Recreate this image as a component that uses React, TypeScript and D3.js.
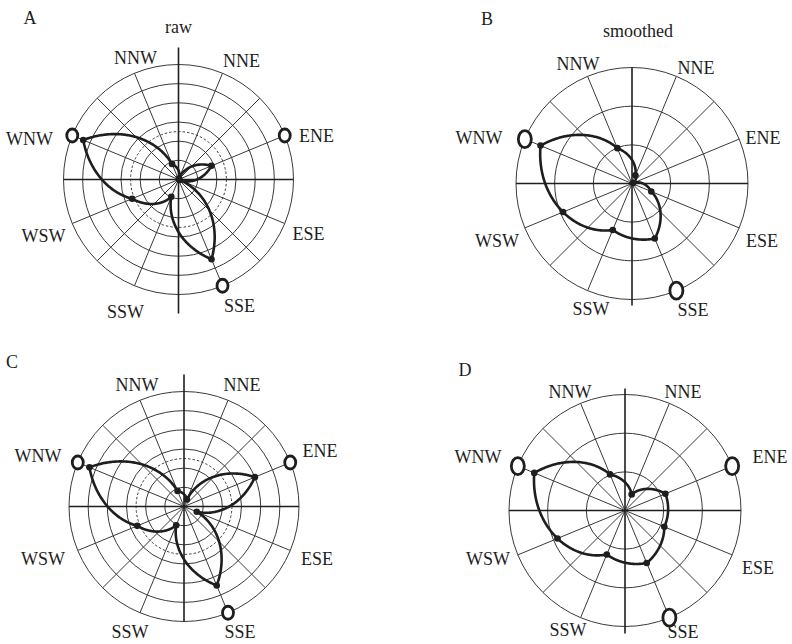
import { useEffect, useRef } from 'react';
import * as d3 from 'd3';

// 8 sectors, clockwise from north
const directions = ['NNE', 'ENE', 'ESE', 'SSE', 'SSW', 'WSW', 'WNW', 'NNW'];
const dirAngles = [22.5, 67.5, 112.5, 157.5, 202.5, 247.5, 292.5, 337.5];

// values (outer ring = 30)
const rawA = [0.3, 9.3, 0.3, 22.5, 4.9, 13.1, 26.9, 4.4];
const smoothB = [2.3, 0.3, 5.4, 15.4, 13.0, 19.3, 25.6, 9.9];
const rawC = [2.0, 20.0, 3.6, 22.3, 5.3, 13.2, 26.7, 4.4];
const smoothD = [4.5, 11.3, 11.0, 14.7, 12.3, 18.9, 25.4, 10.1];

const markersA = ['WNW', 'ENE', 'SSE'];
const markersB = ['WNW', 'SSE'];
const markersC = ['WNW', 'ENE', 'SSE'];
const markersD = ['WNW', 'ENE', 'SSE'];

const rawRings = [5, 10, 15, 20, 25, 30];
const smoothRings = [10, 20, 30];
const uniformLevel = 12.5;
const rMax = 30;

type Off = Record<string, [number, number]>;

// label placement relative to each centre
const labelsA: Off = { NNW: [-43, -122], NNE: [63, -119], ENE: [138, -44], ESE: [130, 54], SSE: [61, 126], SSW: [-53, 132], WSW: [-135, 56], WNW: [-149, -41] };
const labelsB: Off = { NNW: [-54, -120], NNE: [64, -116], ENE: [131, -46], ESE: [130, 57], SSE: [61, 126], SSW: [-41, 125], WSW: [-135, 57], WNW: [-153, -46] };
const labelsC: Off = { NNW: [-47, -122], NNE: [58, -122], ENE: [136, -56], ESE: [133, 52], SSE: [56, 125], SSW: [-54, 125], WSW: [-141, 52], WNW: [-146, -51] };
const labelsD: Off = { NNW: [-55, -119], NNE: [58, -119], ENE: [145, -54], ESE: [133, 57], SSE: [58, 121], SSW: [-57, 119], WSW: [-137, 48], WNW: [-147, -54] };

const panels = [
  { letter: 'A', lx: 30, ly: 18, title: 'raw', tx: 0, values: rawA, markers: markersA, labels: labelsA, rings: rawRings, dashed: true, cx: 178.5, cy: 179.5, R: 115, up: 132, down: 134, mrx: 5.5, mry: 6.5 },
  { letter: 'B', lx: 487, ly: 19, title: 'smoothed', tx: 6, values: smoothB, markers: markersB, labels: labelsB, rings: smoothRings, dashed: false, cx: 632, cy: 183.5, R: 116, up: 116, down: 122, mrx: 6.5, mry: 8.5 },
  { letter: 'C', lx: 12, ly: 362, title: '', tx: 0, values: rawC, markers: markersC, labels: labelsC, rings: rawRings, dashed: true, cx: 184, cy: 506.5, R: 115, up: 132, down: 115, mrx: 5.5, mry: 6.5 },
  { letter: 'D', lx: 465, ly: 370, title: '', tx: 0, values: smoothD, markers: markersD, labels: labelsD, rings: smoothRings, dashed: false, cx: 625, cy: 510.5, R: 116, up: 122, down: 123, mrx: 6.5, mry: 8.5 },
];

const ink = '#1e1e1e';
const grid = '#3a3a3a';
const font = '"Liberation Serif", "DejaVu Serif", serif';

export default function App() {
  const ref = useRef<SVGSVGElement | null>(null);

  useEffect(() => {
    if (!ref.current) return;
    const svg = d3.select(ref.current);
    svg.selectAll('*').remove();

    svg.append('rect').attr('width', 792).attr('height', 644).attr('fill', '#fff');

    const rad = (deg: number) => (deg * Math.PI) / 180;

    panels.forEach(p => {
      const r = d3.scaleLinear().domain([0, rMax]).range([0, p.R]);
      const g = svg.append('g').attr('transform', `translate(${p.cx},${p.cy})`);

      // rings
      g.selectAll('circle.ring')
        .data(p.rings)
        .join('circle')
        .attr('class', 'ring')
        .attr('r', d => r(d))
        .attr('fill', 'none')
        .attr('stroke', grid)
        .attr('stroke-width', 1);

      if (p.dashed) {
        g.append('circle')
          .attr('r', r(uniformLevel))
          .attr('fill', 'none')
          .attr('stroke', grid)
          .attr('stroke-width', 1)
          .attr('stroke-dasharray', '2.5,2');
      }

      // spokes every 22.5 degrees (cardinal ones are the axes)
      const spokes = d3.range(16).filter(i => i % 4 !== 0).map(i => i * 22.5);
      g.selectAll('line.spoke')
        .data(spokes)
        .join('line')
        .attr('class', 'spoke')
        .attr('x1', 0)
        .attr('y1', 0)
        .attr('x2', d => d3.pointRadial(rad(d), p.R)[0])
        .attr('y2', d => d3.pointRadial(rad(d), p.R)[1])
        .attr('stroke', grid)
        .attr('stroke-width', 1);

      // axes
      g.append('line')
        .attr('x1', -p.R).attr('x2', p.R).attr('y1', 0).attr('y2', 0)
        .attr('stroke', ink).attr('stroke-width', 1.6);
      g.append('line')
        .attr('x1', 0).attr('x2', 0).attr('y1', -p.up).attr('y2', p.down)
        .attr('stroke', ink).attr('stroke-width', 1.6);

      // radius varies linearly with angle between neighbouring sectors
      const last = p.values.length - 1;
      const byAngle = d3.scaleLinear()
        .domain([dirAngles[last] - 360, ...dirAngles])
        .range([p.values[last], ...p.values]);
      const thetas = d3.range(dirAngles[last] - 360, dirAngles[last], 0.5);
      const radial = d3.lineRadial<number>()
        .angle(t => rad(t))
        .radius(t => r(byAngle(t)))
        .curve(d3.curveLinearClosed);
      g.append('path')
        .attr('d', radial(thetas))
        .attr('fill', 'none')
        .attr('stroke', ink)
        .attr('stroke-width', 2.6)
        .attr('stroke-linejoin', 'round');

      const pts = p.values.map((v, i) => d3.pointRadial(rad(dirAngles[i]), r(v)));
      g.selectAll('circle.dot')
        .data(pts)
        .join('circle')
        .attr('class', 'dot')
        .attr('cx', d => d[0])
        .attr('cy', d => d[1])
        .attr('r', 3.3)
        .attr('fill', ink);

      // open markers on the rim
      g.selectAll('ellipse.mark')
        .data(p.markers)
        .join('ellipse')
        .attr('class', 'mark')
        .attr('cx', d => d3.pointRadial(rad(dirAngles[directions.indexOf(d)]), p.R)[0])
        .attr('cy', d => d3.pointRadial(rad(dirAngles[directions.indexOf(d)]), p.R)[1])
        .attr('rx', p.mrx)
        .attr('ry', p.mry)
        .attr('fill', '#fff')
        .attr('stroke', ink)
        .attr('stroke-width', 2.8);

      // direction labels
      g.selectAll('text.dir')
        .data(directions)
        .join('text')
        .attr('class', 'dir')
        .attr('x', d => p.labels[d][0])
        .attr('y', d => p.labels[d][1])
        .attr('text-anchor', 'middle')
        .attr('dominant-baseline', 'central')
        .attr('fill', ink)
        .style('font-family', font)
        .style('font-size', '18px')
        .text(d => d);

      if (p.title) {
        g.append('text')
          .attr('x', p.tx)
          .attr('y', -153)
          .attr('text-anchor', 'middle')
          .attr('dominant-baseline', 'central')
          .attr('fill', ink)
          .style('font-family', font)
          .style('font-size', '18px')
          .text(p.title);
      }

      svg.append('text')
        .attr('x', p.lx)
        .attr('y', p.ly)
        .attr('text-anchor', 'middle')
        .attr('dominant-baseline', 'central')
        .attr('fill', ink)
        .style('font-family', font)
        .style('font-size', '18px')
        .text(p.letter);
    });
  }, []);

  return (
    <svg
      ref={ref}
      width={792}
      height={644}
      style={{ position: 'absolute', left: 0, top: 0 }}
    />
  );
}
